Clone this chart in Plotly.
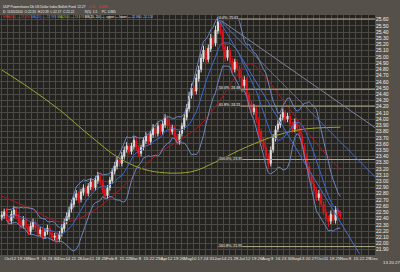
import numpy as np
import pandas as pd
import plotly.graph_objects as go

# ---------------- data ----------------
start_date = "2009-09-28"          # first bar, bars every 2 trading days
close = [22.46,22.51,22.41,22.35,22.47,22.54,22.44,22.35,22.28,22.38,
         22.25,22.18,22.28,22.35,22.25,22.15,22.22,22.12,22.18,22.25,
         22.15,22.09,22.12,22.06,22.15,22.25,22.35,22.44,22.54,22.64,
         22.73,22.80,22.70,22.83,22.89,22.80,22.92,22.99,22.89,23.02,
         23.09,22.99,22.86,22.76,22.89,23.02,23.15,23.25,23.34,23.28,
         23.41,23.50,23.57,23.47,23.57,23.66,23.54,23.44,23.54,23.66,
         23.73,23.63,23.76,23.86,23.76,23.89,23.79,23.92,24.02,23.89,
         23.79,23.86,23.73,23.63,23.76,23.89,24.02,24.18,24.37,24.50,
         24.44,24.66,24.79,24.98,25.11,24.95,25.14,25.30,25.21,25.43,
         25.56,25.40,25.18,24.98,25.11,24.92,24.79,24.92,24.82,24.66,
         24.53,24.63,24.40,24.24,24.11,24.18,23.99,23.79,23.66,23.54,
         23.41,23.28,23.50,23.70,23.83,23.92,24.02,24.11,23.99,24.05,
         23.92,23.83,23.95,23.86,23.73,23.57,23.41,23.25,23.09,22.96,
         22.86,22.73,22.80,22.64,22.51,22.41,22.35,22.47,22.38,22.54,
         22.47,22.44]
open_ = [22.42,22.45,22.52,22.40,22.36,22.46,22.53,22.43,22.36,22.29,
         22.37,22.26,22.19,22.27,22.34,22.26,22.16,22.21,22.13,22.19,
         22.24,22.16,22.10,22.13,22.07,22.16,22.24,22.36,22.43,22.55,
         22.63,22.74,22.79,22.71,22.82,22.88,22.81,22.91,22.98,22.90,
         23.01,23.08,22.98,22.87,22.77,22.90,23.01,23.16,23.24,23.35,
         23.29,23.40,23.51,23.56,23.48,23.56,23.65,23.53,23.45,23.55,
         23.65,23.72,23.64,23.75,23.85,23.77,23.88,23.80,23.91,24.01,
         23.88,23.80,23.85,23.72,23.64,23.77,23.88,24.03,24.17,24.38,
         24.49,24.45,24.65,24.80,24.97,25.10,24.96,25.13,25.29,25.22,
         25.42,25.55,25.39,25.17,24.99,25.10,24.93,24.80,24.91,24.81,
         24.65,24.54,24.62,24.39,24.25,24.12,24.17,23.98,23.80,23.65,
         23.53,23.40,23.29,23.51,23.69,23.84,23.91,24.03,24.10,24.00,
         24.04,23.91,23.84,23.94,23.85,23.72,23.56,23.40,23.24,23.08,
         22.95,22.85,22.74,22.79,22.63,22.50,22.40,22.36,22.46,22.37,
         22.53,22.48]
high = [22.52,22.56,22.57,22.45,22.53,22.60,22.57,22.48,22.41,22.44,
        22.42,22.31,22.34,22.40,22.38,22.30,22.27,22.25,22.24,22.30,
        22.28,22.20,22.17,22.18,22.20,22.31,22.40,22.50,22.59,22.70,
        22.79,22.86,22.84,22.88,22.95,22.93,22.97,23.05,23.03,23.08,
        23.15,23.12,23.03,22.92,22.94,23.07,23.21,23.31,23.40,23.40,
        23.47,23.56,23.63,23.61,23.62,23.72,23.70,23.58,23.59,23.71,
        23.79,23.77,23.81,23.92,23.90,23.95,23.93,23.97,24.08,24.06,
        23.93,23.91,23.90,23.77,23.81,23.94,24.08,24.24,24.44,24.57,
        24.55,24.73,24.86,25.05,25.18,25.16,25.20,25.37,25.35,25.50,
        25.64,25.60,25.44,25.23,25.17,25.15,24.98,24.97,24.96,24.86,
        24.70,24.69,24.67,24.44,24.30,24.24,24.22,24.03,23.85,23.70,
        23.58,23.45,23.56,23.76,23.89,23.98,24.08,24.17,24.15,24.10,
        24.09,23.96,24.01,23.99,23.90,23.77,23.61,23.45,23.29,23.13,
        23.00,22.90,22.86,22.84,22.68,22.55,22.45,22.53,22.51,22.60,
        22.58,22.53]
low = [22.37,22.40,22.36,22.30,22.31,22.41,22.39,22.30,22.23,22.24,
       22.20,22.13,22.14,22.22,22.20,22.10,22.11,22.07,22.08,22.14,
       22.10,22.04,22.05,22.00,22.02,22.11,22.19,22.31,22.38,22.50,
       22.58,22.69,22.65,22.66,22.77,22.75,22.76,22.86,22.84,22.85,
       22.96,22.94,22.81,22.71,22.72,22.85,22.96,23.11,23.19,23.23,
       23.24,23.35,23.46,23.42,23.43,23.51,23.49,23.39,23.40,23.50,
       23.60,23.58,23.59,23.70,23.71,23.72,23.74,23.75,23.86,23.84,
       23.74,23.75,23.68,23.58,23.59,23.72,23.83,23.98,24.12,24.33,
       24.39,24.40,24.60,24.75,24.92,24.90,24.91,25.08,25.16,25.17,
       25.37,25.35,25.12,24.92,24.94,24.87,24.74,24.75,24.77,24.61,
       24.48,24.49,24.35,24.19,24.06,24.07,23.94,23.74,23.61,23.49,
       23.36,23.21,23.24,23.46,23.64,23.79,23.86,23.98,23.94,23.95,
       23.87,23.78,23.79,23.81,23.68,23.52,23.36,23.20,23.04,22.91,
       22.81,22.68,22.69,22.59,22.46,22.36,22.27,22.31,22.33,22.32,
       22.42,22.39]

# EMA(50) line
ema_dates = ["2009-09-28","2009-10-29","2009-12-03","2009-12-28","2010-01-20",
             "2010-02-11","2010-03-08","2010-03-31","2010-04-22","2010-05-17",
             "2010-06-09","2010-06-29","2010-07-14","2010-07-30","2010-08-18",
             "2010-09-09","2010-10-06","2010-10-27"]
ema_vals = [22.76,22.57,22.35,22.41,22.60,22.86,23.18,23.47,23.66,23.90,
            24.31,24.71,24.89,24.69,24.36,23.95,23.50,23.18]

# MA(200) line
ma200_dates = ["2009-09-28","2009-10-29","2009-12-03","2010-01-07","2010-02-11",
               "2010-03-18","2010-05-05","2010-06-03","2010-07-01","2010-08-05",
               "2010-09-09","2010-10-27"]
ma200_vals = [24.79,24.50,24.15,23.74,23.37,23.17,23.15,23.31,23.50,23.70,23.83,23.87]

# Fibonacci levels from the June peak
fib_start = "2010-06-07"
fib_end = "2010-12-08"
fib_pct = ["0.0%", "50.0%", "61.8%", "100.0%", "161.8%"]
fib_price = [25.61, 24.48, 24.21, 23.35, 21.95]

# trend lines from the peak: (start date, start price, end date, end price, colour)
trend_lines = [
    ("2010-06-07", 25.62, "2010-12-07", 23.86, "#7d8499"),
    ("2010-06-07", 25.62, "2010-12-07", 23.07, "#4a6cc4"),
    ("2010-06-07", 25.62, "2010-11-18", 21.83, "#4a6cc4"),
]

x_start, x_end = "2009-09-24 12:00", "2010-12-06 20:00"
y_lo, y_hi = 21.815, 25.674

# ---------------- build ----------------
dates = pd.bdate_range(start_date, periods=len(close), freq="2B")
s = pd.Series(close)
bb_mid = s.rolling(10, min_periods=3).mean()
bb_sd = s.rolling(10, min_periods=3).std(ddof=0)
bb_up = bb_mid + 2 * bb_sd
bb_lo = bb_mid - 2 * bb_sd

fig = go.Figure()

fig.add_trace(go.Scatter(x=ma200_dates, y=ma200_vals, mode="lines", line_shape="spline",
                         line=dict(color="#9aa833", width=1), hoverinfo="skip"))
fig.add_trace(go.Scatter(x=ema_dates, y=ema_vals, mode="lines", line_shape="spline",
                         line=dict(color="#a8191c", width=1), hoverinfo="skip"))

for i, p in enumerate(fib_price):
    fig.add_trace(go.Scatter(x=[fib_start, fib_end], y=[p, p], mode="lines",
                             line=dict(color="#b3ad8a", width=1), hoverinfo="skip"))

for (d0, p0, d1, p1, c) in trend_lines:
    fig.add_trace(go.Scatter(x=[d0, d1], y=[p0, p1], mode="lines",
                             line=dict(color=c, width=1), hoverinfo="skip"))

fig.add_trace(go.Scatter(x=dates, y=bb_up, mode="lines", line=dict(color="#6f86bd", width=1), hoverinfo="skip"))
fig.add_trace(go.Scatter(x=dates, y=bb_lo, mode="lines", line=dict(color="#6f86bd", width=1), hoverinfo="skip"))
fig.add_trace(go.Scatter(x=dates, y=bb_mid, mode="lines", line=dict(color="#3d68d0", width=1), hoverinfo="skip"))

fig.add_trace(go.Candlestick(
    x=dates, open=open_, high=high, low=low, close=close,
    increasing=dict(line=dict(color="#d9d9d9", width=1), fillcolor="#f2f2f2"),
    decreasing=dict(line=dict(color="#e0161c", width=1), fillcolor="#e0161c"),
    whiskerwidth=0, hoverinfo="skip"))

# fib labels
for pct, p in zip(fib_pct, fib_price):
    fig.add_annotation(x=fib_start, y=p, xref="x", yref="y", text=f"{pct}, {p:.2f}",
                       showarrow=False, xanchor="left", yanchor="bottom", yshift=-2,
                       font=dict(size=3.6, color="#f0f0f0", family="Liberation Sans"),
                       bgcolor="#3a3935", borderpad=0)

# x ticks (weekly Mondays)
mondays = pd.date_range("2009-09-28", "2010-12-27", freq="W-MON")
tick_vals, tick_text = [], []
prev_month = None
for i, d in enumerate(mondays):
    lab = d.strftime("%b") if (d.month != prev_month) else str(d.day)
    prev_month = d.month
    tick_vals.append(d)
    tick_text.append(lab)
xe = pd.Timestamp(x_end)
inrange = [(v, t) for v, t in zip(tick_vals, tick_text) if v <= xe]
outrange = [(v, t) for v, t in zip(tick_vals, tick_text) if v > xe]

xs = np.datetime64(pd.Timestamp(x_start).normalize().date())
tot = np.busday_count(xs, np.datetime64(xe.normalize().date())) + 0.83
for v, t in outrange:
    frac = np.busday_count(xs, np.datetime64(v.date())) / tot
    fig.add_annotation(x=frac, y=0, xref="paper", yref="paper", text=t, showarrow=False,
                       xanchor="left", xshift=1, yanchor="top", yshift=-3,
                       font=dict(size=4.4, color="#e8e8e0"))

# header rows
hdr_font = dict(size=3.2, family="Liberation Sans", color="#f0f0f0")
fig.add_annotation(x=0.002, y=1.05, xref="paper", yref="paper", xanchor="left", showarrow=False,
                   text="UUP Powershares Db US Dollar Index Bullish Fund  22.27   "
                        "<span style='color:#ff3030'>-0.11   -0.49%</span>", font=hdr_font)
fig.add_annotation(x=0.002, y=1.029, xref="paper", yref="paper", xanchor="left", showarrow=False,
                   text="D: 11/05/2010  O:22.35  H:22.39  L:22.17  C:22.22"
                        "&nbsp;&nbsp;&nbsp;&nbsp;&nbsp;&nbsp;&nbsp;&nbsp;&nbsp;&nbsp;&nbsp;&nbsp;R(5)  1.5&nbsp;&nbsp;&nbsp;&nbsp;&nbsp;PC  4.865",
                   font=hdr_font)
fig.add_annotation(x=0.002, y=1.01, xref="paper", yref="paper", xanchor="left", showarrow=False,
                   text="<span style='color:#ff3030'>EMA(50) — 23.192</span> "
                        "<span style='color:#5a8cff'>MA(20) — 22.389</span> "
                        "<span style='color:#a8c030'>MA(200) — 23.978</span> "
                        "BB(20, 2.0) — upper — lower — "
                        "<span style='color:#9fb6ff'>22.860, 22.124</span>",
                   font=hdr_font)

fig.update_layout(
    width=400, height=272,
    margin=dict(l=0, r=25, t=15, b=17),
    paper_bgcolor="#55514a", plot_bgcolor="#242320",
    showlegend=False,
    font=dict(family="Liberation Sans", size=5, color="#e8e8e0"),
    xaxis=dict(type="date", range=[x_start, x_end],
               rangebreaks=[dict(bounds=["sat", "mon"])],
               rangeslider=dict(visible=False),
               tickvals=[v for v, t in inrange], ticktext=[t for v, t in inrange],
               tickangle=0, tickfont=dict(size=4.4, color="#e8e8e0"),
               showgrid=True, gridcolor="#4b4a45", gridwidth=1,
               zeroline=False, showline=False, ticks="", ticklen=0),
    yaxis=dict(side="right", range=[y_lo, y_hi], tick0=21.8, dtick=0.1, tickformat=".2f",
               tickfont=dict(size=5, color="#eeeeee"),
               showgrid=True, gridcolor="#4b4a45", gridwidth=1,
               zeroline=False, showline=False, ticks="", ticklen=0),
)

fig.write_html("out.html")
